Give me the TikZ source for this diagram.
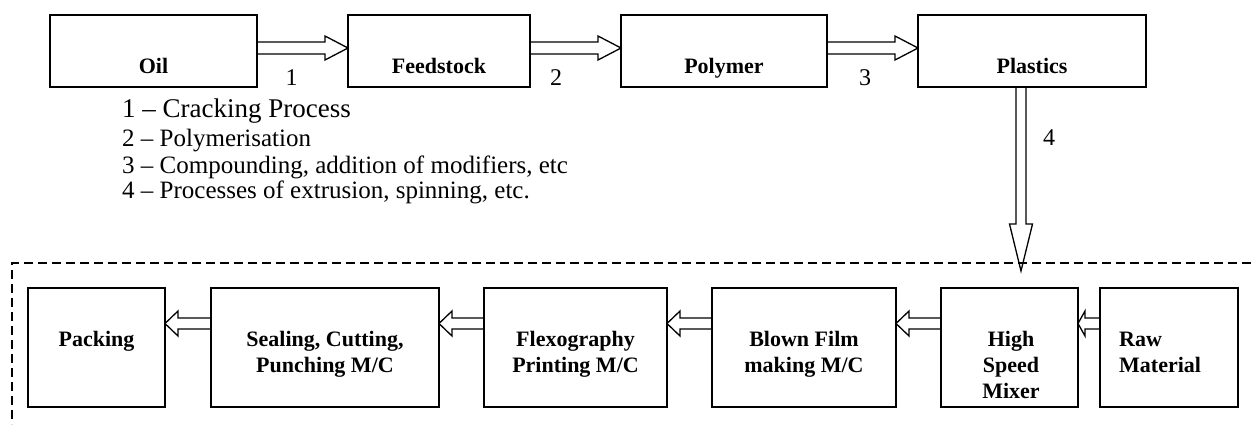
\documentclass[tikz,border=0pt]{standalone}
\usepackage{fontspec}
\setmainfont{Liberation Serif}
\usetikzlibrary{calc}
\newcommand\rarr[5]{\draw[harr] let \p1=(#1), \p2=(#2) in (\x1,\y2+#3pt) -- (\x2-#5pt,\y2+#3pt) -- (\x2-#5pt,\y2+#4pt) -- (\x2,\y2) -- (\x2-#5pt,\y2-#4pt) -- (\x2-#5pt,\y2-#3pt) -- (\x1,\y2-#3pt);}
\newcommand\larr[5]{\draw[harr] let \p1=(#1), \p2=(#2) in (\x1,\y2+#3pt) -- (\x2+#5pt,\y2+#3pt) -- (\x2+#5pt,\y2+#4pt) -- (\x2,\y2) -- (\x2+#5pt,\y2-#4pt) -- (\x2+#5pt,\y2-#3pt) -- (\x1,\y2-#3pt);}
\begin{document}
\begin{tikzpicture}[x=1pt,y=-1pt,
  box/.style={draw, line width=1.3pt, inner sep=0, outer sep=0},
  lbl/.style={font=\fontsize{22}{26}\selectfont\bfseries, inner sep=0, anchor=base},
  num/.style={font=\fontsize{24}{27}\selectfont, inner sep=0, anchor=base},
  leg/.style={font=\fontsize{25}{28}\selectfont, inner sep=0, anchor=base west},
  harr/.style={line width=1.3pt, line join=miter},
  frame/.style={line width=1.2pt, dash pattern=on 9pt off 5pt}]
\useasboundingbox (0,0) rectangle (1251,424);
% top boxes
\node[box, minimum width=207, minimum height=72] (oil) at (153.5,51) {};
\node[box, minimum width=182, minimum height=72] (feed) at (439,51) {};
\node[box, minimum width=206, minimum height=72] (poly) at (724,51) {};
\node[box, minimum width=228, minimum height=72] (plast) at (1032,51) {};
\node[lbl] (toil) at (153.5,73) {Oil};
\node[lbl] (tfeed) at (439,73) {Feedstock};
\node[lbl] (tpoly) at (724,73) {Polymer};
\node[lbl] (tplast) at (1032,73) {Plastics};
% top arrows
\rarr{oil.east}{$(feed.north west)+(0,33)$}{6}{12}{23}
\rarr{feed.east}{$(poly.north west)+(0,33)$}{6}{12}{23}
\rarr{poly.east}{$(plast.north west)+(0,33)$}{6}{12}{23}
\node[num] (n1) at (291.7,85) {1};
\node[num] (n2) at (556,85.5) {2};
\node[num] (n3) at (865,85) {3};
\node[num] (n4) at (1049,145) {4};
% legend
\node[leg, font=\fontsize{27}{30}\selectfont] (l1) at (122,117) {1 – Cracking Process};
\node[leg] (l2) at (122,146) {2 – Polymerisation};
\node[leg] (l3) at (122,173) {3 – Compounding, addition of modifiers, etc};
\node[leg] (l4) at (122,198) {4 – Processes of extrusion, spinning, etc.};
% dashed frame
\coordinate (dtl) at (12,263);
\draw[frame] (1251,263) -- (dtl) -- (12,424);
% down arrow
\coordinate (tip4) at (1021,271);
\draw[harr] let \p1=(plast.south), \p2=(tip4) in (\x2-5pt,\y1) -- (\x2-5pt,\y2+47pt) -- (\x2-11.5pt,\y2+47pt) -- (\x2,\y2) -- (\x2+11.5pt,\y2+47pt) -- (\x2+5pt,\y2+47pt) -- (\x2+5pt,\y1);
% bottom boxes
\node[box, minimum width=137, minimum height=119] (pack) at (96.5,347.5) {};
\node[box, minimum width=228, minimum height=119] (seal) at (325,347.5) {};
\node[box, minimum width=183, minimum height=119] (flex) at (575.5,347.5) {};
\node[box, minimum width=184, minimum height=119] (blown) at (804,347.5) {};
\node[box, minimum width=137, minimum height=119] (hsm) at (1009.5,347.5) {};
\node[box, minimum width=138, minimum height=119] (raw) at (1169,347.5) {};
\node[lbl] (tpack) at (96.5,346) {Packing};
\node[lbl] (tseal) at (325,346) {\begin{tabular}[t]{@{}c@{}}Sealing, Cutting,\\Punching M/C\end{tabular}};
\node[lbl] (tflex) at (575.5,346) {\begin{tabular}[t]{@{}c@{}}Flexography\\Printing M/C\end{tabular}};
\node[lbl] (tblown) at (804,346) {\begin{tabular}[t]{@{}c@{}}Blown Film\\making M/C\end{tabular}};
\node[lbl] (thsm) at (1011,346) {\begin{tabular}[t]{@{}c@{}}High\\Speed\\Mixer\end{tabular}};
\node[lbl, anchor=base west] (traw) at (1119,346) {\begin{tabular}[t]{@{}l@{}}Raw\\Material\end{tabular}};
% bottom arrows
\larr{raw.west}{$(hsm.north east)+(0,35.5)$}{5.5}{12.5}{7}
\larr{hsm.west}{$(blown.north east)+(0,35.5)$}{5.5}{12.5}{13}
\larr{blown.west}{$(flex.north east)+(0,35.5)$}{5.5}{12.5}{13}
\larr{flex.west}{$(seal.north east)+(0,35.5)$}{5.5}{12.5}{13}
\larr{seal.west}{$(pack.north east)+(0,35.5)$}{5.5}{12.5}{13}
\end{tikzpicture}
\end{document}
